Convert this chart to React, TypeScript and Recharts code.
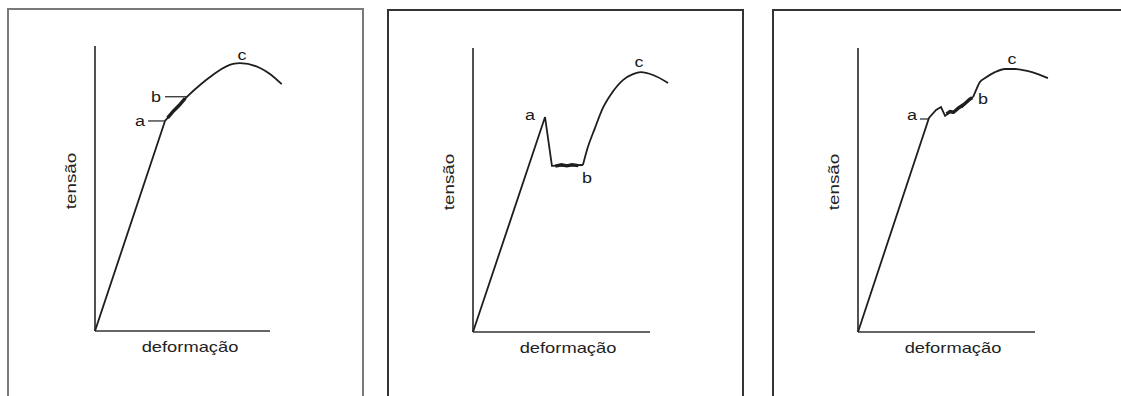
import React from 'react';
import { LineChart, Line, XAxis, YAxis, ReferenceLine, ReferenceDot } from 'recharts';

type Pt = [number, number];
type Letter = { t: string; x: number; y: number };

// x: deformação (0-100 = comprimento do eixo), y: tensão (0-100 = altura do eixo)

// painel 1
const p1Elastic: Pt[] = [[0, 0], [40, 73.7]];
const p1Curve: Pt[] = [[40, 73.7], [53.1, 82.5], [60, 86.3], [65.7, 89.1], [69.7, 90.9], [78.9, 93.7], [82.9, 94.0], [94.3, 92.3], [100, 90.2], [106.7, 86.6]];
const p1Serration: Pt[] = [[41.5, 74.8], [45, 77.3], [48, 79.1], [51.5, 81.6]];
const p1Ticks: Pt[][] = [[[30.3, 73.7], [40, 73.7]], [[40, 82.2], [52.6, 82.2]]];
const p1Letters: Letter[] = [{ t: 'a', x: 25.7, y: 73.7 }, { t: 'b', x: 34.9, y: 82.1 }, { t: 'c', x: 84, y: 96.8 }];

// painel 2
const p2Elastic: Pt[] = [[0, 0], [40.7, 75.7], [44.6, 58.5], [62.1, 58.8]];
const p2Curve: Pt[] = [[62.1, 58.8], [64.4, 64.1], [68.9, 71.8], [73.4, 78.9], [78.5, 84.2], [84.7, 88.7], [90.4, 90.8], [94.9, 91.5], [101.7, 90.5], [110.2, 87.7]];
const p2Serration: Pt[] = [[46.5, 58.4], [50, 58.9], [53, 58.5], [56, 58.9], [59.5, 58.6]];
const p2Ticks: Pt[][] = [];
const p2Letters: Letter[] = [{ t: 'a', x: 32.2, y: 76.4 }, { t: 'b', x: 64.4, y: 54.2 }, { t: 'c', x: 93.8, y: 95.1 }];

// painel 3
const p3Elastic: Pt[] = [[0, 0], [40.1, 75.4], [44.1, 78.2], [46.9, 79.2], [49.2, 76.1], [52, 77.5], [53.7, 77.1], [56.5, 78.9], [58.8, 79.2], [62.1, 81.3], [65, 82.7]];
const p3Curve: Pt[] = [[65, 82.7], [66.7, 85.2], [68.9, 88.0], [71.8, 89.4], [77.4, 91.5], [83.1, 92.6], [88.7, 92.6], [98.3, 91.5], [107.3, 89.4]];
const p3Serration: Pt[] = [[50, 76.8], [52, 77.6], [54, 77.4], [57, 79], [60, 80.2], [63, 81.9], [64.5, 82.5]];
const p3Ticks: Pt[][] = [[[35, 75], [40.1, 75]]];
const p3Letters: Letter[] = [{ t: 'a', x: 30.5, y: 76.4 }, { t: 'b', x: 70.6, y: 82 }, { t: 'c', x: 87, y: 96.1 }];

const FONT = '"Liberation Sans", Arial, Helvetica, sans-serif';
const INK = '#1e1e1e';

const toObj = (arr: Pt[]) => arr.map(([x, y]) => ({ x, y }));

const letterLabel = (t: string) => (props: any) => {
  const vb = props.viewBox || {};
  const cx = (vb.x || 0) + (vb.width || 0) / 2;
  const cy = (vb.y || 0) + (vb.height || 0) / 2;
  return (
    <text
      transform={`translate(${cx},${cy}) scale(1.2,1)`}
      textAnchor="middle"
      dominantBaseline="central"
      fontFamily={FONT}
      fontSize={15}
      fill="#1a1a1a"
    >
      {t}
    </text>
  );
};

type PanelProps = {
  box: { left: number; top: number; width: number; color: string };
  ox: number;
  oy: number;
  L: number;
  H: number;
  elastic: Pt[];
  curve: Pt[];
  serration: Pt[];
  ticks: Pt[][];
  letters: Letter[];
};

const XMAX = 115;
const PAD = 10;

const Panel: React.FC<PanelProps> = ({ box, ox, oy, L, H, elastic, curve, serration, ticks, letters }) => {
  const w = (L * XMAX) / 100 + PAD * 2;
  const h = H + PAD * 2;
  return (
    <>
      <div
        style={{
          position: 'absolute',
          left: box.left,
          top: box.top,
          width: box.width,
          height: 420,
          border: `2px solid ${box.color}`,
          boxSizing: 'border-box',
        }}
      />
      <div style={{ position: 'absolute', left: ox - PAD, top: oy - H - PAD }}>
        <LineChart width={w} height={h} margin={{ top: PAD, right: PAD, bottom: PAD, left: PAD }}>
          <XAxis type="number" dataKey="x" domain={[0, XMAX]} hide />
          <YAxis type="number" dataKey="y" domain={[0, 100]} hide />
          <ReferenceLine segment={[{ x: 0, y: 0 }, { x: 100, y: 0 }]} stroke="#333" strokeWidth={1.7} />
          <ReferenceLine segment={[{ x: 0, y: 0 }, { x: 0, y: 100 }]} stroke="#333" strokeWidth={1.7} />
          {ticks.map((s, i) => (
            <ReferenceLine
              key={`tick-${i}`}
              segment={[{ x: s[0][0], y: s[0][1] }, { x: s[1][0], y: s[1][1] }]}
              stroke="#333"
              strokeWidth={1.3}
            />
          ))}
          <Line data={toObj(elastic)} dataKey="y" type="linear" stroke={INK} strokeWidth={1.8} dot={false} isAnimationActive={false} />
          <Line data={toObj(curve)} dataKey="y" type="monotone" stroke={INK} strokeWidth={1.8} dot={false} isAnimationActive={false} />
          <Line data={toObj(serration)} dataKey="y" type="linear" stroke={INK} strokeWidth={3.4} dot={false} isAnimationActive={false} />
          {letters.map((l) => (
            <ReferenceDot key={l.t} x={l.x} y={l.y} r={0} fill="none" stroke="none" label={letterLabel(l.t)} />
          ))}
        </LineChart>
      </div>
      <div
        style={{
          position: 'absolute',
          left: ox - 25,
          top: oy - 150,
          transform: 'translate(-50%, -50%) rotate(-90deg) scaleX(1.25)',
          fontFamily: FONT,
          fontSize: 15,
          color: '#222',
          whiteSpace: 'nowrap',
          lineHeight: 1,
        }}
      >
        tensão
      </div>
      <div
        style={{
          position: 'absolute',
          left: ox + 95,
          top: oy + 15,
          transform: 'translate(-50%, -50%) scaleX(1.22)',
          fontFamily: FONT,
          fontSize: 15,
          color: '#222',
          whiteSpace: 'nowrap',
          lineHeight: 1,
        }}
      >
        deformação
      </div>
    </>
  );
};

export default function App() {
  return (
    <div style={{ position: 'absolute', left: 0, top: 0, width: 1121, height: 396, overflow: 'hidden', background: '#fff' }}>
      <Panel
        box={{ left: 7, top: 8, width: 357, color: '#7a7a7a' }}
        ox={95}
        oy={331}
        L={175}
        H={285}
        elastic={p1Elastic}
        curve={p1Curve}
        serration={p1Serration}
        ticks={p1Ticks}
        letters={p1Letters}
      />
      <Panel
        box={{ left: 387, top: 9, width: 357, color: '#333' }}
        ox={473}
        oy={332}
        L={177}
        H={284}
        elastic={p2Elastic}
        curve={p2Curve}
        serration={p2Serration}
        ticks={p2Ticks}
        letters={p2Letters}
      />
      <Panel
        box={{ left: 772, top: 9, width: 400, color: '#333' }}
        ox={858}
        oy={332}
        L={177}
        H={284}
        elastic={p3Elastic}
        curve={p3Curve}
        serration={p3Serration}
        ticks={p3Ticks}
        letters={p3Letters}
      />
    </div>
  );
}
